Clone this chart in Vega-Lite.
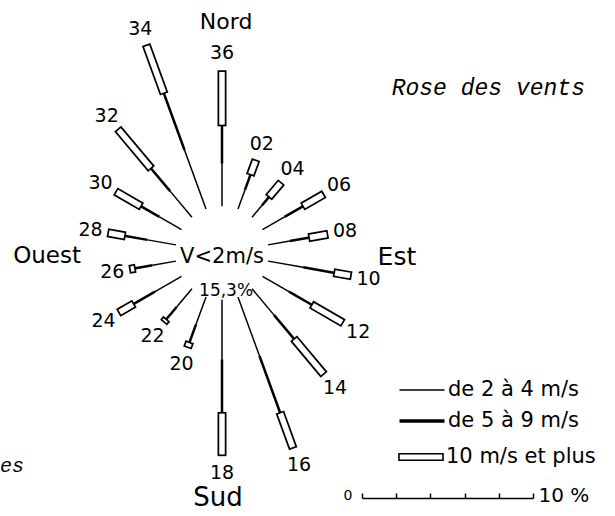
{
  "$schema": "https://vega.github.io/schema/vega-lite/v6.json",
  "width": 615,
  "height": 516,
  "autosize": {"type": "none"},
  "padding": 0,
  "background": "white",
  "config": {"view": {"stroke": null}},
  "datasets": {
    "rose": [
      {"dir": "02", "low": 1.2, "mid": 1.0, "high": 0.8},
      {"dir": "04", "low": 0.9, "mid": 0.7, "high": 1.0},
      {"dir": "06", "low": 1.5, "mid": 1.3, "high": 1.3},
      {"dir": "08", "low": 1.3, "mid": 1.2, "high": 1.0},
      {"dir": "10", "low": 2.1, "mid": 1.9, "high": 0.9},
      {"dir": "12", "low": 1.8, "mid": 1.6, "high": 2.0},
      {"dir": "14", "low": 2.0, "mid": 1.9, "high": 2.6},
      {"dir": "16", "low": 3.7, "mid": 3.6, "high": 2.1},
      {"dir": "18", "low": 3.5, "mid": 3.2, "high": 2.4},
      {"dir": "20", "low": 1.7, "mid": 1.2, "high": 0.2},
      {"dir": "22", "low": 1.4, "mid": 1.0, "high": 0.1},
      {"dir": "24", "low": 1.8, "mid": 1.5, "high": 0.9},
      {"dir": "26", "low": 1.4, "mid": 1.1, "high": 0.2},
      {"dir": "28", "low": 1.7, "mid": 1.4, "high": 0.9},
      {"dir": "30", "low": 1.5, "mid": 1.3, "high": 1.6},
      {"dir": "32", "low": 2.0, "mid": 1.8, "high": 2.9},
      {"dir": "34", "low": 3.7, "mid": 3.6, "high": 2.9},
      {"dir": "36", "low": 2.5, "mid": 2.3, "high": 3.1}
    ],
    "scalebar": [{"pct": 0}, {"pct": 10}]
  },
  "layer": [
    {
      "layer": [
        {
          "data": {"name": "rose"},
          "transform": [
            {"calculate": "toNumber(datum.dir) * PI / 18", "as": "a"},
            {"calculate": "2.75", "as": "rA"},
            {"calculate": "datum.rA + datum.low", "as": "rB"},
            {"calculate": "datum.rB + datum.mid", "as": "rC"},
            {"calculate": "datum.rC + datum.high", "as": "rD"},
            {"calculate": "datum.rA * sin(datum.a)", "as": "xA"},
            {"calculate": "datum.rA * cos(datum.a)", "as": "yA"},
            {"calculate": "datum.rB * sin(datum.a)", "as": "xB"},
            {"calculate": "datum.rB * cos(datum.a)", "as": "yB"},
            {"calculate": "datum.rC * sin(datum.a)", "as": "xC"},
            {"calculate": "datum.rC * cos(datum.a)", "as": "yC"},
            {"calculate": "datum.rD * sin(datum.a)", "as": "xD"},
            {"calculate": "datum.rD * cos(datum.a)", "as": "yD"},
            {"calculate": "(datum.rC - 0.1) * sin(datum.a)", "as": "xCe"},
            {"calculate": "(datum.rC - 0.1) * cos(datum.a)", "as": "yCe"},
            {"calculate": "(datum.rD + 0.1) * sin(datum.a)", "as": "xDe"},
            {"calculate": "(datum.rD + 0.1) * cos(datum.a)", "as": "yDe"},
            {"calculate": "(datum.rD + 1.1) * sin(datum.a)", "as": "xL"},
            {"calculate": "(datum.rD + 1.1) * cos(datum.a)", "as": "yL"}
          ],
          "layer": [
            {
              "mark": {"type": "rule", "color": "black", "strokeCap": "butt"},
              "encoding": {
                "x": {"field": "xA", "type": "quantitative", "scale": {"domain": [-13.0588, 23.1176], "nice": false, "zero": false}, "axis": null},
                "y": {"field": "yA", "type": "quantitative", "scale": {"domain": [-15.4706, 14.8824], "nice": false, "zero": false}, "axis": null},
                "x2": {"field": "xB"},
                "y2": {"field": "yB"},
                "strokeWidth": {
                  "datum": "de 2 à 4 m/s",
                  "type": "ordinal",
                  "scale": {"type": "ordinal", "domain": ["de 2 à 4 m/s", "de 5 à 9 m/s"], "range": [1.5, 3.7]},
                  "legend": {
                    "orient": "none",
                    "legendX": 410,
                    "legendY": 379,
                    "direction": "vertical",
                    "title": null,
                    "padding": 0,
                    "symbolType": "M-2.25,0H2.25",
                    "symbolSize": 400,
                    "symbolStrokeColor": "black",
                    "labelFont": "DejaVu Sans",
                    "labelFontSize": 21,
                    "labelColor": "black",
                    "labelLimit": 300,
                    "labelOffset": 14,
                    "rowPadding": 9
                  }
                }
              }
            },
            {
              "mark": {"type": "rule", "color": "black", "strokeCap": "butt"},
              "encoding": {
                "x": {"field": "xB", "type": "quantitative", "scale": {"domain": [-13.0588, 23.1176], "nice": false, "zero": false}, "axis": null},
                "y": {"field": "yB", "type": "quantitative", "scale": {"domain": [-15.4706, 14.8824], "nice": false, "zero": false}, "axis": null},
                "x2": {"field": "xC"},
                "y2": {"field": "yC"},
                "strokeWidth": {"datum": "de 5 à 9 m/s", "type": "ordinal"}
              }
            },
            {
              "mark": {"type": "rule", "strokeCap": "butt", "strokeWidth": 9},
              "encoding": {
                "x": {"field": "xCe", "type": "quantitative", "scale": {"domain": [-13.0588, 23.1176], "nice": false, "zero": false}, "axis": null},
                "y": {"field": "yCe", "type": "quantitative", "scale": {"domain": [-15.4706, 14.8824], "nice": false, "zero": false}, "axis": null},
                "x2": {"field": "xDe"},
                "y2": {"field": "yDe"},
                "stroke": {
                  "datum": "10 m/s et plus",
                  "type": "nominal",
                  "scale": {"range": ["black"]},
                  "legend": {
                    "orient": "none",
                    "legendX": 410,
                    "legendY": 446,
                    "title": null,
                    "padding": 0,
                    "symbolType": "M-2.2,-0.33H2.2V0.33H-2.2Z",
                    "symbolSize": 400,
                    "symbolStrokeWidth": 1.6,
                    "symbolFillColor": "white",
                    "labelFont": "DejaVu Sans",
                    "labelFontSize": 21,
                    "labelColor": "black",
                    "labelLimit": 300,
                    "labelOffset": 14
                  }
                }
              }
            },
            {
              "mark": {"type": "rule", "color": "white", "strokeCap": "butt", "strokeWidth": 5.5},
              "encoding": {
                "x": {"field": "xC", "type": "quantitative", "scale": {"domain": [-13.0588, 23.1176], "nice": false, "zero": false}, "axis": null},
                "y": {"field": "yC", "type": "quantitative", "scale": {"domain": [-15.4706, 14.8824], "nice": false, "zero": false}, "axis": null},
                "x2": {"field": "xD"},
                "y2": {"field": "yD"}
              }
            },
            {
              "mark": {"type": "text", "font": "DejaVu Sans", "fontSize": 19, "align": "center", "baseline": "middle", "color": "black"},
              "encoding": {
                "x": {"field": "xL", "type": "quantitative", "scale": {"domain": [-13.0588, 23.1176], "nice": false, "zero": false}, "axis": null},
                "y": {"field": "yL", "type": "quantitative", "scale": {"domain": [-15.4706, 14.8824], "nice": false, "zero": false}, "axis": null},
                "text": {"field": "dir", "type": "nominal"}
              }
            }
          ]
        },
        {
          "data": {"values": [{}]},
          "mark": {"type": "text", "text": "Rose des vents", "fontSize": 23, "font": "Liberation Mono", "fontStyle": "italic", "align": "right", "baseline": "alphabetic", "color": "black"},
          "encoding": {"x": {"datum": 21.35, "type": "quantitative"}, "y": {"datum": 9.3, "type": "quantitative"}}
        },
        {
          "data": {"values": [{}]},
          "mark": {"type": "text", "text": "Nord", "fontSize": 22, "font": "DejaVu Sans", "align": "center", "baseline": "middle", "color": "black"},
          "encoding": {"x": {"datum": 0.24, "type": "quantitative"}, "y": {"datum": 13.59, "type": "quantitative"}}
        },
        {
          "data": {"values": [{}]},
          "mark": {"type": "text", "text": "Sud", "fontSize": 26, "font": "DejaVu Sans", "align": "center", "baseline": "middle", "color": "black"},
          "encoding": {"x": {"datum": -0.24, "type": "quantitative"}, "y": {"datum": -14.4, "type": "quantitative"}}
        },
        {
          "data": {"values": [{}]},
          "mark": {"type": "text", "text": "Ouest", "fontSize": 23, "font": "DejaVu Sans", "align": "center", "baseline": "middle", "color": "black"},
          "encoding": {"x": {"datum": -10.29, "type": "quantitative"}, "y": {"datum": -0.18, "type": "quantitative"}}
        },
        {
          "data": {"values": [{}]},
          "mark": {"type": "text", "text": "Est", "fontSize": 25, "font": "DejaVu Sans", "align": "center", "baseline": "middle", "color": "black"},
          "encoding": {"x": {"datum": 10.29, "type": "quantitative"}, "y": {"datum": -0.24, "type": "quantitative"}}
        },
        {
          "data": {"values": [{}]},
          "mark": {"type": "text", "text": "V<2m/s", "fontSize": 21, "font": "DejaVu Sans", "align": "center", "baseline": "middle", "color": "black"},
          "encoding": {"x": {"datum": 0, "type": "quantitative"}, "y": {"datum": -0.24, "type": "quantitative"}}
        },
        {
          "data": {"values": [{}]},
          "mark": {"type": "text", "text": "15,3%", "fontSize": 17, "font": "DejaVu Sans", "align": "center", "baseline": "middle", "color": "black"},
          "encoding": {"x": {"datum": 0.24, "type": "quantitative"}, "y": {"datum": -2.24, "type": "quantitative"}}
        },
        {
          "data": {"values": [{}]},
          "mark": {"type": "text", "text": "es", "fontSize": 20, "font": "Liberation Mono", "fontStyle": "italic", "align": "left", "baseline": "middle", "color": "black"},
          "encoding": {"x": {"datum": -13.06, "type": "quantitative"}, "y": {"datum": -12.53, "type": "quantitative"}}
        }
      ]
    },
    {
      "data": {"name": "scalebar"},
      "mark": {"type": "point", "opacity": 0},
      "encoding": {
        "x": {
          "field": "pct",
          "type": "quantitative",
          "scale": {"domain": [0, 10], "range": [362, 533], "nice": false, "zero": false},
          "axis": {
            "orient": "bottom",
            "offset": -18,
            "values": [0, 2, 4, 6, 8, 10],
            "title": null,
            "grid": false,
            "domainColor": "black",
            "domainWidth": 1.5,
            "tickColor": "black",
            "tickWidth": 1.5,
            "tickSize": -5,
            "labelFlush": false,
            "labelOverlap": false,
            "labelExpr": "datum.value == 0 ? '0' : (datum.value == 10 ? '10 %' : '')",
            "labelAlign": {"condition": {"test": "datum.value == 0", "value": "right"}, "value": "left"},
            "labelOffset": {"condition": {"test": "datum.value == 0", "value": -10}, "value": 5},
            "labelFontSize": {"condition": {"test": "datum.value == 0", "value": 14}, "value": 20},
            "labelBaseline": "middle",
            "labelPadding": 2,
            "labelFont": "DejaVu Sans",
            "labelColor": "black"
          }
        }
      }
    }
  ],
  "resolve": {"scale": {"x": "independent"}, "axis": {"x": "independent"}}
}
